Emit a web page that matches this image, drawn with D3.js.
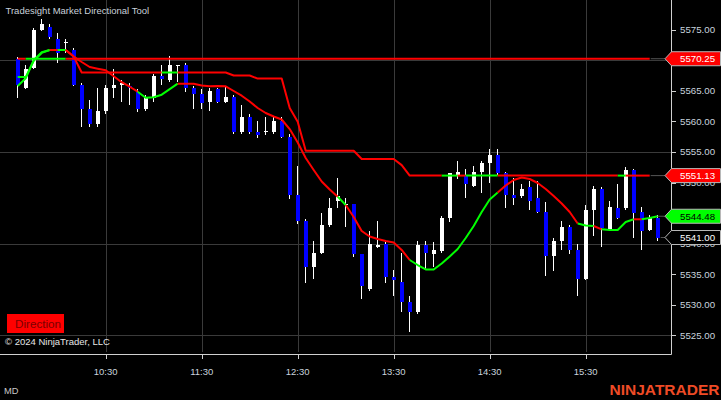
<!DOCTYPE html>
<html><head><meta charset="utf-8">
<script src="https://cdn.jsdelivr.net/npm/d3@7"></script>
<style>body{margin:0;background:#000;overflow:hidden}svg{display:block}</style>
</head><body><svg id="c" width="721" height="400"></svg>
<script>
// ---------------- DATA ----------------
const title = "Tradesight Market Directional Tool";
const firstBarTime = "09:35";
const barMinutes = 5;
const lastBarTime = "16:15";
const timeTicks = ["10:30","11:30","12:30","13:30","14:30","15:30"];
const priceTicks = [5525,5530,5535,5540,5545,5550,5555,5560,5565,5570,5575];
const gridPrices = [5525,5540,5555,5570];

const opens = [5570.25,5565.5,5568.75,5575.0,5575.5,5573.5,5572.75,5571.75,5566.0,5562.0,
 5559.5,5561.75,5565.5,5566.0,5565.75,5564.75,5562.0,5563.75,5567.5,5566.75,
 5569.0,5569.25,5565.5,5564.5,5563.25,5565.25,5563.25,5564.0,5558.25,5560.75,
 5558.25,5558.25,5558.25,5560.0,5557.5,5548.0,5543.75,5536.25,5538.5,5543.0,
 5547.0,5546.25,5546.5,5538.25,5532.5,5539.5,5540.0,5534.5,5533.75,5530.5,
 5528.75,5539.75,5538.25,5538.75,5544.25,5551.0,5551.25,5549.5,5551.75,5553.25,
 5554.5,5551.5,5548.0,5547.75,5549.25,5547.5,5545.25,5538.0,5540.5,5542.75,
 5539.0,5534.25,5545.5,5549.0,5542.25,5545.75,5545.75,5552.0,5545.25,5542.25,
 5544.25];
const highs = [5570.5,5569.25,5575.25,5576.75,5576.0,5574.5,5573.5,5572.0,5566.25,5563.5,
 5565.5,5566.0,5568.5,5566.75,5566.25,5565.25,5564.25,5567.75,5569.25,5570.75,
 5569.25,5569.5,5565.75,5565.25,5565.5,5565.5,5565.75,5564.25,5562.75,5561.25,
 5560.0,5560.75,5560.75,5560.75,5558.0,5552.75,5544.0,5540.5,5545.0,5547.5,
 5550.75,5547.5,5546.5,5538.25,5542.0,5543.75,5540.25,5535.75,5538.5,5531.5,
 5540.5,5540.5,5540.25,5544.5,5551.5,5553.5,5552.25,5552.75,5553.5,5555.5,
 5555.5,5551.75,5550.75,5549.75,5550.25,5550.25,5546.75,5541.0,5543.75,5543.0,
 5540.0,5546.25,5549.5,5549.25,5547.0,5549.75,5552.5,5552.25,5546.0,5544.75,
 5544.75];
const lows = [5563.75,5565.25,5568.5,5574.75,5573.5,5569.5,5571.25,5565.75,5559.0,5559.0,
 5559.0,5561.25,5563.75,5563.25,5562.75,5561.5,5561.75,5563.25,5566.0,5566.5,
 5566.5,5564.75,5562.0,5562.0,5561.75,5563.0,5563.0,5558.0,5558.0,5558.0,
 5557.25,5557.75,5558.0,5557.25,5547.25,5543.25,5533.5,5534.25,5538.25,5542.75,
 5545.75,5542.75,5537.75,5531.0,5532.25,5539.25,5533.5,5531.5,5528.75,5525.5,
 5528.5,5535.75,5536.25,5538.5,5543.5,5550.5,5547.5,5549.25,5548.25,5550.0,
 5551.25,5545.75,5546.25,5547.5,5545.5,5545.0,5534.75,5535.5,5539.0,5538.25,
 5531.5,5534.0,5541.25,5539.5,5542.0,5544.0,5545.5,5541.0,5539.0,5542.0,
 5540.5];
const closes = [5566.0,5568.5,5575.0,5576.0,5573.75,5571.25,5573.0,5566.0,5562.0,5559.5,
 5561.75,5565.5,5566.0,5566.25,5565.5,5562.0,5564.0,5567.5,5567.0,5569.25,
 5569.25,5565.5,5564.5,5563.0,5565.0,5563.25,5564.0,5558.25,5560.75,5558.25,
 5557.75,5558.5,5560.0,5557.5,5548.0,5543.75,5536.25,5538.5,5543.0,5545.75,
 5547.75,5546.5,5538.25,5533.0,5540.0,5539.75,5534.5,5534.0,5530.5,5528.75,
 5539.75,5538.5,5539.0,5544.25,5551.5,5551.75,5549.75,5551.75,5553.25,5554.5,
 5551.5,5548.0,5547.5,5549.0,5547.0,5545.25,5538.0,5540.5,5542.75,5539.0,
 5534.25,5545.5,5549.0,5542.5,5546.0,5544.25,5552.0,5545.0,5542.0,5544.25,
 5541.0];

// upper level line (bars 0..79)
const upperLine = [5570.25,5570.25,5570.25,5570.25,5570.25,5570.25,5570.25,5570.25,5570.25,5570.25,
 5570.25,5570.25,5570.25,5570.25,5570.25,5570.25,5570.25,5570.25,5570.25,5570.25,
 5570.25,5570.25,5570.25,5570.25,5570.25,5570.25,5570.25,5570.25,5570.25,5570.25,
 5570.25,5570.25,5570.25,5570.25,5570.25,5570.25,5570.25,5570.25,5570.25,5570.25,
 5570.25,5570.25,5570.25,5570.25,5570.25,5570.25,5570.25,5570.25,5570.25,5570.25,
 5570.25,5570.25,5570.25,5570.25,5570.25,5570.25,5570.25,5570.25,5570.25,5570.25,
 5570.25,5570.25,5570.25,5570.25,5570.25,5570.25,5570.25,5570.25,5570.25,5570.25,
 5570.25,5570.25,5570.25,5570.25,5570.25,5570.25,5570.25,5570.25,5570.25,5570.25];
const upperDir = "RRGGGGGRRR RRRRRRRRRR RRRRRRRRRR RRRRRRRRRR RRRRRRRRRR RRRRRRRRRR RRRRRRRRRR RRRRRRRRRR";

// stepped trailing line (bars 0..79)
const stepLine = [5567.25,5567.25,5569.9,5571.2,5571.68,5571.68,5571.68,5570.6,5568.0,5568.0,
 5568.0,5568.0,5568.0,5568.0,5568.0,5568.0,5568.0,5568.0,5568.0,5568.0,
 5568.0,5568.0,5568.0,5568.0,5568.0,5568.0,5568.0,5567.5,5567.5,5567.5,
 5567.0,5567.0,5567.0,5567.0,5562.2,5559.95,5555.2,5555.2,5555.2,5555.2,
 5555.2,5555.2,5555.2,5553.85,5553.85,5553.85,5553.85,5553.85,5552.85,5551.13,
 5551.13,5551.13,5551.13,5551.13,5551.13,5551.13,5551.13,5551.13,5551.13,5551.13,
 5551.13,5551.13,5551.13,5551.13,5551.13,5551.13,5551.13,5551.13,5551.13,5551.13,
 5551.13,5551.13,5551.13,5551.13,5551.13,5551.13,5551.13,5551.13,5551.13,5551.13];
const stepDir = "GGGGGRGRRR RRRRRRRRRG GRRRRRRRRR RRRRRRRRRR RRRRRRRRRR RRRRGGRGGG GRRRRRRRRR RRRRRRGRRR";

// smooth average line (bars 0..80)
const avgLine = [5565.79,5567.05,5570.04,5571.3,5571.68,5571.68,5571.68,5570.6,5569.72,5568.9,
 5568.62,5568.36,5567.38,5566.41,5565.67,5564.86,5563.87,5563.96,5564.37,5565.27,
 5566.17,5566.17,5566.17,5565.87,5565.74,5565.79,5565.74,5564.97,5564.2,5563.25,
 5562.19,5561.37,5560.8,5560.31,5558.75,5556.54,5554.01,5552.05,5550.16,5548.85,
 5547.68,5546.32,5544.36,5542.07,5541.17,5540.76,5540.43,5540.18,5538.96,5537.32,
 5536.5,5535.77,5535.77,5536.75,5537.89,5539.12,5540.92,5542.88,5545.17,5547.22,
 5548.36,5549.51,5550.41,5550.82,5550.57,5549.92,5548.94,5547.79,5546.56,5545.17,
 5543.29,5542.96,5542.88,5542.34,5542.23,5542.23,5543.54,5543.98,5543.98,5544.19,
 5544.48];
const avgDir = "GGGGGRGRRR RRRRRRGGGG GRRRRRRRRR RRRRRRRRRR RGRRRRRRRR GGGGGGGGGG GRRRRRRRRR RGGRGGGGRG G";

// ---------------- DRAWING ----------------
const W = 721, H = 400;
const plotRight = 671, plotBottom = 354;
const RED = "#ff0000", GREEN = "#00ff00", BLUE = "#0000ff";
const parseT = d3.timeParse("%H:%M");
const t0 = parseT(firstBarTime), t1 = parseT(lastBarTime);
const barTimes = closes.map((_, i) => d3.timeMinute.offset(t0, i * barMinutes));

const x = d3.scaleTime().domain([t0, t1]).range([17.7, 657.7]);
const y = d3.scaleLinear().domain([5521.94, 5579.86]).range([plotBottom, 0]);

const svg = d3.select("#c");
svg.append("rect").attr("width", W).attr("height", H).attr("fill", "#000");

const font = "Arial, 'Liberation Sans', sans-serif";
const g = svg.append("g");

// grid
g.selectAll(".hg").data(gridPrices).join("line")
  .attr("x1", 0).attr("x2", plotRight)
  .attr("y1", d => Math.round(y(d)) + 0.5).attr("y2", d => Math.round(y(d)) + 0.5)
  .attr("stroke", "#3a3a3a").attr("stroke-width", 1);
const tickTimes = timeTicks.map(parseT);
g.selectAll(".vg").data(tickTimes).join("line")
  .attr("x1", d => Math.round(x(d)) + 0.5).attr("x2", d => Math.round(x(d)) + 0.5)
  .attr("y1", 0).attr("y2", 352)
  .attr("stroke", "#3a3a3a").attr("stroke-width", 1);

// candles
const bars = closes.map((c, i) => ({t: barTimes[i], o: opens[i], h: highs[i], l: lows[i], c}));
const cg = g.append("g").attr("shape-rendering", "crispEdges");
cg.selectAll(".wick").data(bars).join("line")
  .attr("x1", d => Math.floor(x(d.t)) + 0.5).attr("x2", d => Math.floor(x(d.t)) + 0.5)
  .attr("y1", d => y(d.h)).attr("y2", d => y(d.l))
  .attr("stroke", "#ffffff").attr("stroke-width", 1);
cg.selectAll(".body").data(bars).join("rect")
  .attr("x", d => Math.floor(x(d.t)) - 1)
  .attr("width", 4)
  .attr("y", d => y(Math.max(d.o, d.c)))
  .attr("height", d => Math.max(1.2, Math.abs(y(d.o) - y(d.c))))
  .attr("fill", d => d.c >= d.o ? "#ffffff" : BLUE);

// indicator lines, drawn as runs of same-coloured segments
function drawSeries(values, dirStr) {
  const dirs = dirStr.replace(/ /g, "");
  const runs = [];
  for (let i = 1; i < values.length; i++) {
    const col = dirs[i] === "G" ? GREEN : RED;
    const last = runs[runs.length - 1];
    if (last && last.col === col) last.idx.push(i);
    else runs.push({col, idx: [i - 1, i]});
  }
  const line = d3.line().x(i => x(barTimes[i])).y(i => y(values[i]));
  g.append("g").selectAll("path").data(runs).join("path")
    .attr("d", r => line(r.idx))
    .attr("fill", "none").attr("stroke", r => r.col)
    .attr("stroke-width", 2).attr("stroke-linejoin", "round");
}
drawSeries(upperLine, upperDir);
drawSeries(stepLine, stepDir);
drawSeries(avgLine, avgDir);

// axes frame
g.append("line").attr("x1", plotRight + 0.5).attr("x2", plotRight + 0.5).attr("y1", 0).attr("y2", plotBottom + 0.5)
  .attr("stroke", "#d0d0d0");
g.append("line").attr("x1", 0).attr("x2", plotRight + 0.5).attr("y1", plotBottom + 0.5).attr("y2", plotBottom + 0.5)
  .attr("stroke", "#d0d0d0");

// last-value markers (values taken from the series ends)
const lastIdxU = upperLine.length - 1, lastIdxS = stepLine.length - 1, lastIdxA = avgLine.length - 1;
const markers = [
  {v: upperLine[lastIdxU], from: x(barTimes[lastIdxU]) + 1, fill: RED, txt: "#ffffff"},
  {v: stepLine[lastIdxS], from: x(barTimes[lastIdxS]) + 1, fill: RED, txt: "#ffffff"},
  {v: avgLine[lastIdxA], from: x(barTimes[lastIdxA]), fill: GREEN, txt: "#000000"},
  {v: closes[closes.length - 1], from: x(barTimes[closes.length - 1]) + 3, fill: "#000000", txt: "#ffffff"}
];

// y ticks and labels (labels fully covered by a marker are not drawn, as in the original)
const labelColor = "#c9d3de";
g.selectAll(".yt").data(priceTicks).join("line")
  .attr("x1", plotRight).attr("x2", plotRight + 5)
  .attr("y1", d => Math.round(y(d)) + 0.5).attr("y2", d => Math.round(y(d)) + 0.5)
  .attr("stroke", "#d0d0d0");
const visibleTicks = priceTicks.filter(p => !markers.some(m => Math.abs(y(m.v) - y(p)) < 4.5));
g.selectAll(".yl").data(visibleTicks).join("text")
  .attr("x", 680).attr("y", d => y(d) + 3.5)
  .attr("fill", labelColor).attr("font-family", font).attr("font-size", "9.7px")
  .text(d3.format(".2f"));

// x ticks and labels
g.selectAll(".xt").data(tickTimes).join("line")
  .attr("x1", d => Math.round(x(d)) + 0.5).attr("x2", d => Math.round(x(d)) + 0.5)
  .attr("y1", plotBottom).attr("y2", plotBottom + 5)
  .attr("stroke", "#d0d0d0");
g.selectAll(".xl").data(tickTimes).join("text")
  .attr("x", d => x(d)).attr("y", 374.5).attr("text-anchor", "middle")
  .attr("fill", labelColor).attr("font-family", font).attr("font-size", "9.5px")
  .text(d3.timeFormat("%H:%M"));

const mg = g.append("g");
markers.forEach(m => {
  const yc = y(m.v);
  mg.append("line").attr("x1", m.from).attr("x2", 665).attr("y1", yc).attr("y2", yc)
    .attr("stroke", "#555").attr("stroke-width", 1);
  mg.append("path")
    .attr("d", `M665,${yc} L671.5,${yc - 7} L720.5,${yc - 7} L720.5,${yc + 7} L671.5,${yc + 7} Z`)
    .attr("fill", m.fill).attr("stroke", "#b8b8b8").attr("stroke-width", 1);
  mg.append("text").attr("x", 680).attr("y", yc + 3.5)
    .attr("fill", m.txt).attr("font-family", font).attr("font-size", "9.7px")
    .text(d3.format(".2f")(m.v));
});

// texts
g.append("text").attr("x", 5.5).attr("y", 14).attr("fill", "#c8d0da")
  .attr("font-family", font).attr("font-size", "9.5px").text(title);
g.append("rect").attr("x", 7).attr("y", 314).attr("width", 57).attr("height", 19).attr("fill", RED);
g.append("text").attr("x", 15).attr("y", 327.8).attr("fill", "#7a0000")
  .attr("font-family", font).attr("font-size", "11.7px").text("Direction");
g.append("text").attr("x", 5).attr("y", 345).attr("fill", "#e6e6e6")
  .attr("font-family", font).attr("font-size", "9.5px").text("© 2024 NinjaTrader, LLC");
g.append("text").attr("x", 4).attr("y", 393.5).attr("fill", "#c8c8c8")
  .attr("font-family", font).attr("font-size", "9.3px").text("MD");
g.append("text").attr("x", 719.5).attr("y", 395).attr("text-anchor", "end").attr("fill", "#ef4b26")
  .attr("font-family", font).attr("font-weight", "bold").attr("font-size", "15.5px").text("NINJATRADER");
</script>
</body></html>
